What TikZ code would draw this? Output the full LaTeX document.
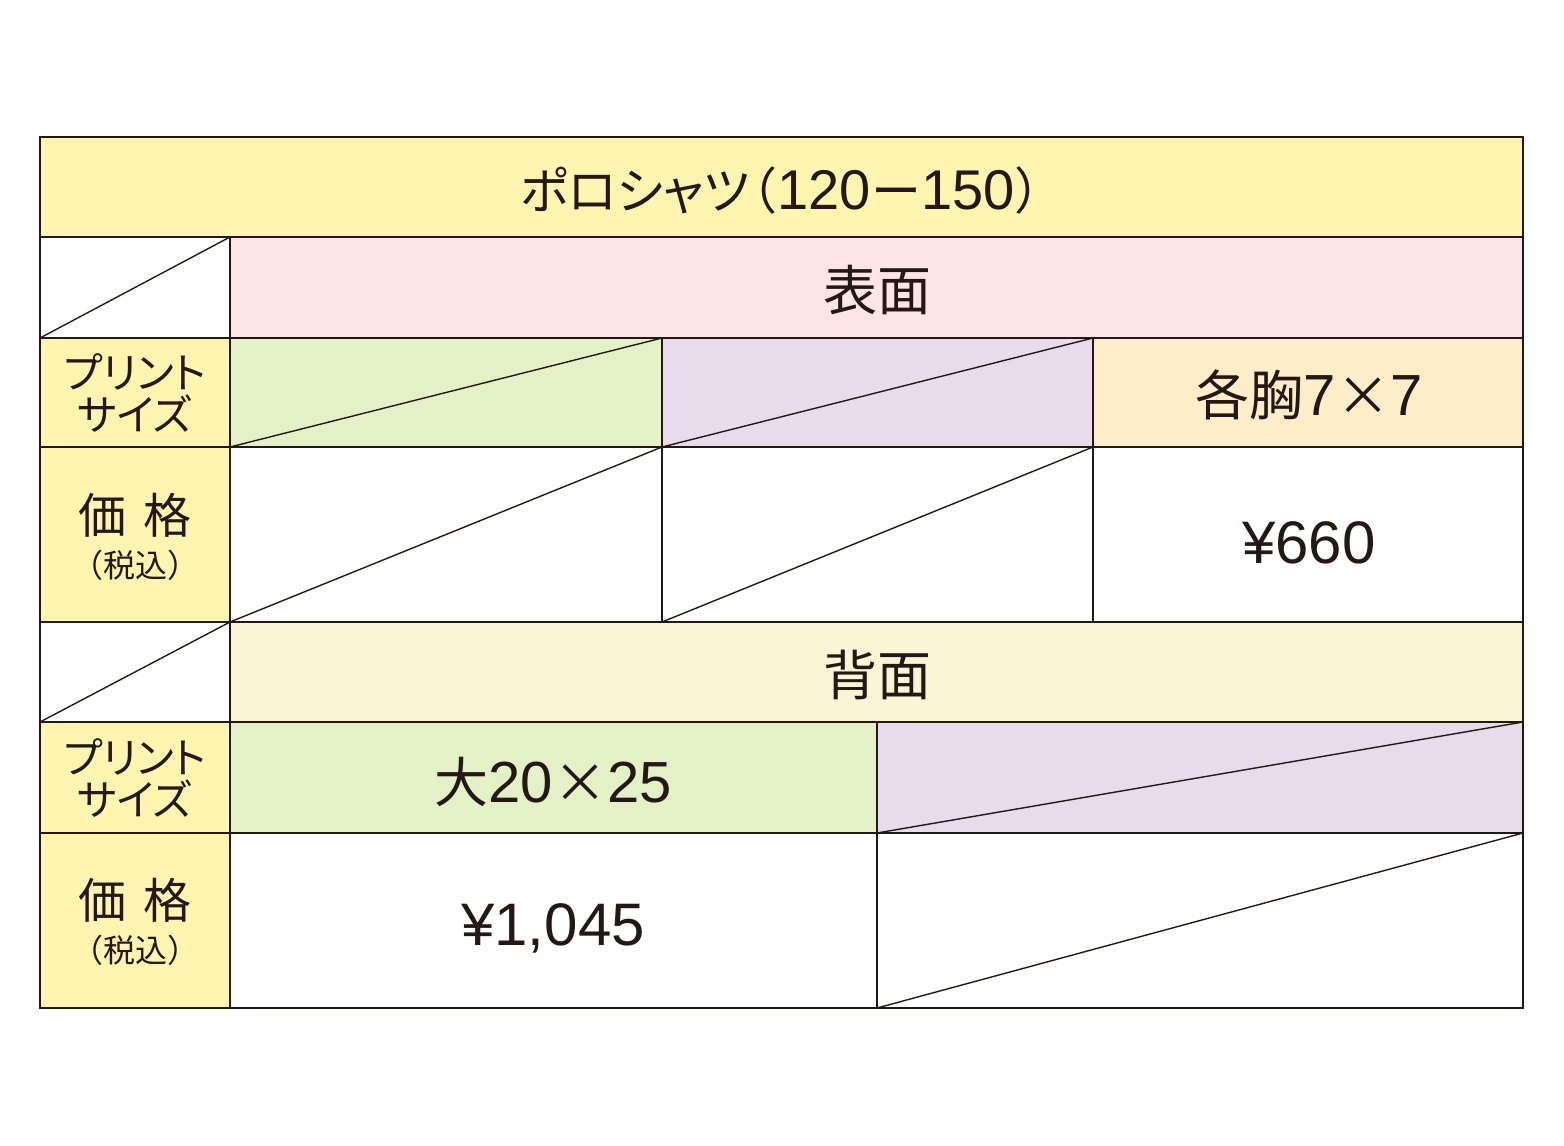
\documentclass[tikz,border=0pt]{standalone}
\usepackage{fontspec}
\setmainfont{Noto Sans CJK JP}
\newfontfamily\numfont{Liberation Sans}
\newfontfamily\kanafont[RawFeature=+palt]{Noto Sans CJK JP}
\usepackage{pgf,tikz}
\usetikzlibrary{arrows}
\definecolor{fff5b0}{rgb}{1.,0.9607843137254902,0.6901960784313725}
\definecolor{fde4e6}{rgb}{0.9921568627450981,0.8941176470588236,0.9019607843137255}
\definecolor{e4f0c6}{rgb}{0.8941176470588236,0.9411764705882353,0.7764705882352941}
\definecolor{e8dbeb}{rgb}{0.9098039215686274,0.8588235294117647,0.9215686274509803}
\definecolor{fdedc8}{rgb}{0.9921568627450981,0.9294117647058824,0.7843137254901961}
\definecolor{faf6d5}{rgb}{0.9803921568627451,0.9647058823529412,0.8352941176470589}
\definecolor{linec}{rgb}{0.13725490196078433,0.09411764705882353,0.08235294117647059}
\begin{document}
\begin{tikzpicture}[line cap=round,line join=round,>=triangle 45,x=0.5pt,y=-0.5pt]
			\useasboundingbox (0.,0.) rectangle (1564.,1146.);
			\fill[color=fff5b0,fill=fff5b0] (40.,137.) -- (1523.,137.) -- (1523.,237.) -- (40.,237.) -- cycle;
			\fill[color=fde4e6,fill=fde4e6] (230.,237.) -- (1523.,237.) -- (1523.,338.) -- (230.,338.) -- cycle;
			\fill[color=fff5b0,fill=fff5b0] (40.,338.) -- (230.,338.) -- (230.,622.) -- (40.,622.) -- cycle;
			\fill[color=e4f0c6,fill=e4f0c6] (230.,338.) -- (662.,338.) -- (662.,447.) -- (230.,447.) -- cycle;
			\fill[color=e8dbeb,fill=e8dbeb] (662.,338.) -- (1093.,338.) -- (1093.,447.) -- (662.,447.) -- cycle;
			\fill[color=fdedc8,fill=fdedc8] (1093.,338.) -- (1523.,338.) -- (1523.,447.) -- (1093.,447.) -- cycle;
			\fill[color=faf6d5,fill=faf6d5] (230.,622.) -- (1523.,622.) -- (1523.,722.) -- (230.,722.) -- cycle;
			\fill[color=fff5b0,fill=fff5b0] (40.,722.) -- (230.,722.) -- (230.,1008.) -- (40.,1008.) -- cycle;
			\fill[color=e4f0c6,fill=e4f0c6] (230.,722.) -- (877.,722.) -- (877.,833.) -- (230.,833.) -- cycle;
			\fill[color=e8dbeb,fill=e8dbeb] (877.,722.) -- (1523.,722.) -- (1523.,833.) -- (877.,833.) -- cycle;
			\draw [color=linec,line width=1.1pt] (40.,137.)-- (1523.,137.);
			\draw [color=linec,line width=1.1pt] (40.,237.)-- (1523.,237.);
			\draw [color=linec,line width=1.1pt] (40.,338.)-- (1523.,338.);
			\draw [color=linec,line width=1.1pt] (40.,447.)-- (1523.,447.);
			\draw [color=linec,line width=1.1pt] (40.,622.)-- (1523.,622.);
			\draw [color=linec,line width=1.1pt] (40.,722.)-- (1523.,722.);
			\draw [color=linec,line width=1.1pt] (40.,833.)-- (1523.,833.);
			\draw [color=linec,line width=1.1pt] (40.,1008.)-- (1523.,1008.);
			\draw [color=linec,line width=1.1pt] (40.,137.)-- (40.,1008.);
			\draw [color=linec,line width=1.1pt] (1523.,137.)-- (1523.,1008.);
			\draw [color=linec,line width=1.1pt] (230.,237.)-- (230.,1008.);
			\draw [color=linec,line width=0.9pt] (662.,338.)-- (662.,622.);
			\draw [color=linec,line width=0.9pt] (1093.,338.)-- (1093.,622.);
			\draw [color=linec,line width=0.9pt] (877.,722.)-- (877.,1008.);
			\draw [color=linec,line width=0.7pt] (40.,338.)-- (230.,237.);
			\draw [color=linec,line width=0.7pt] (230.,447.)-- (662.,338.);
			\draw [color=linec,line width=0.7pt] (662.,447.)-- (1093.,338.);
			\draw [color=linec,line width=0.7pt] (230.,622.)-- (662.,447.);
			\draw [color=linec,line width=0.7pt] (662.,622.)-- (1093.,447.);
			\draw [color=linec,line width=0.7pt] (40.,722.)-- (230.,622.);
			\draw [color=linec,line width=0.7pt] (877.,833.)-- (1523.,722.);
			\draw [color=linec,line width=0.7pt] (877.,1008.)-- (1523.,833.);
			\draw (781.,190.) node[color=linec,font=\fontsize{25}{25}\selectfont] (title) {{\kanafont ポロシャツ}\kern-0.45em（{\numfont\fontsize{28}{28}\selectfont 120}ー{\numfont\fontsize{28}{28}\selectfont 150}）\kern-0.45em};
			\draw (877.,290.) node[color=linec,font=\fontsize{27}{27}\selectfont] (omote) {表面};
			\draw (135.,393.) node[color=linec,font=\kanafont\fontsize{21}{21}\selectfont,align=center,inner sep=0pt] (size1) {プリント\\サイズ};
			\draw (135.,515.) node[color=linec,font=\fontsize{24}{24}\selectfont] (kakaku1) {価\hspace{0.35em}格};
			\draw (135.,565.) node[color=linec,font=\fontsize{16}{16}\selectfont] (zei1) {（税込）};
			\draw (1309.,395.) node[color=linec,font=\fontsize{27}{27}\selectfont] (mune) {各胸{\numfont\fontsize{29}{29}\selectfont 7}×{\numfont\fontsize{29}{29}\selectfont 7}};
			\draw (1309.,543.) node[color=linec,font=\numfont\fontsize{30}{30}\selectfont] (price1) {¥660};
			\draw (877.,675.) node[color=linec,font=\fontsize{27}{27}\selectfont] (ura) {背面};
			\draw (135.,778.) node[color=linec,font=\kanafont\fontsize{21}{21}\selectfont,align=center,inner sep=0pt] (size2) {プリント\\サイズ};
			\draw (135.,900.) node[color=linec,font=\fontsize{24}{24}\selectfont] (kakaku2) {価\hspace{0.35em}格};
			\draw (135.,950.) node[color=linec,font=\fontsize{16}{16}\selectfont] (zei2) {（税込）};
			\draw (553.,782.) node[color=linec,font=\fontsize{27}{27}\selectfont] (dai) {大{\numfont\fontsize{29}{29}\selectfont 20}×{\numfont\fontsize{29}{29}\selectfont 25}};
			\draw (553.,928.) node[color=linec,font=\numfont\fontsize{30}{30}\selectfont] (price2) {¥1,045};
\end{tikzpicture}
\end{document}
